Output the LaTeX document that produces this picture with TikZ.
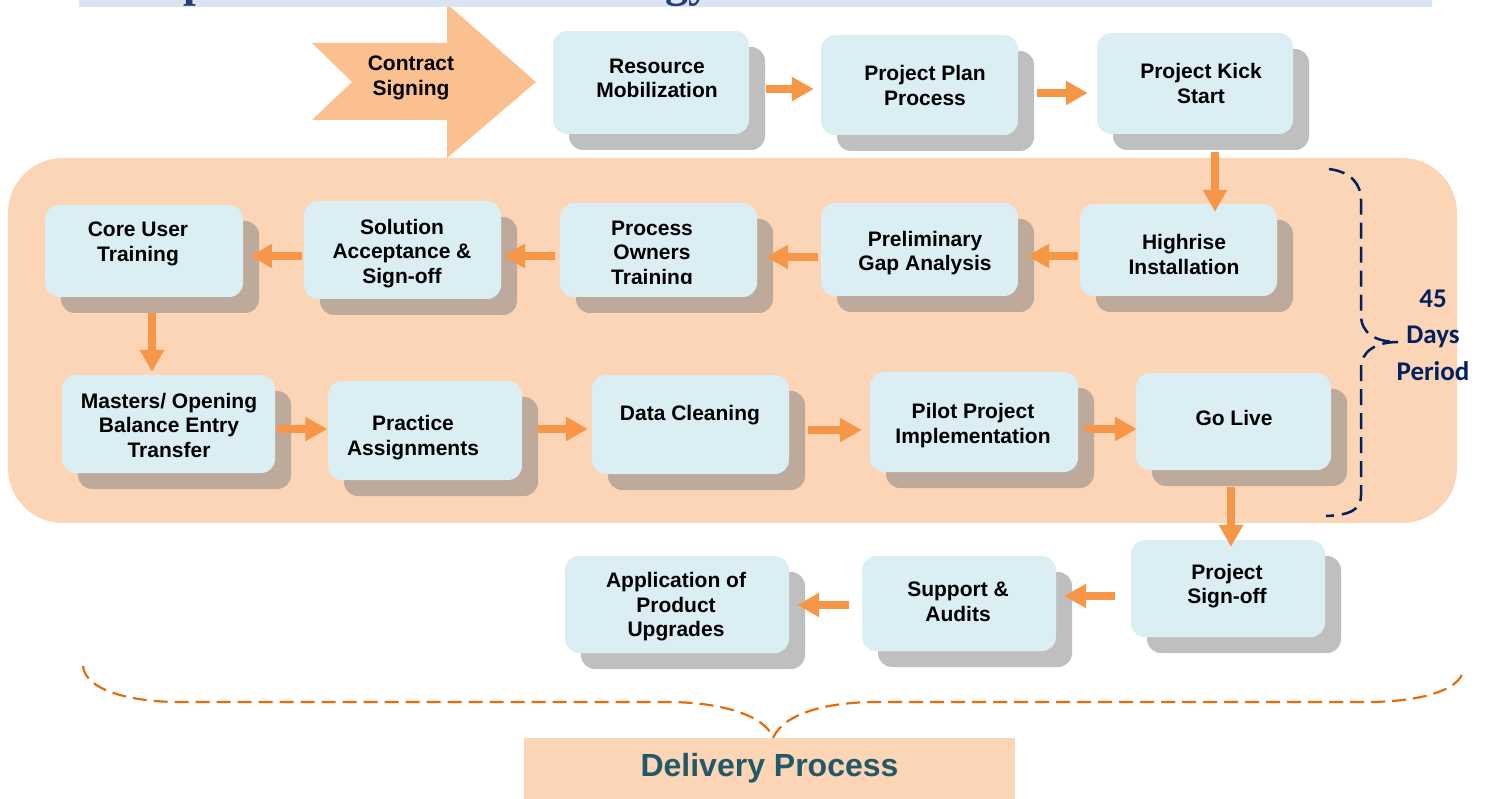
\documentclass[tikz,border=0pt]{standalone}
\usepackage{fontspec}
\setmainfont{Liberation Sans}
\newfontfamily\carlito{Carlito}
\newfontfamily\serifb{Liberation Serif}
\usetikzlibrary{arrows.meta,shadows}
\definecolor{peach}{HTML}{FBD5B5}
\definecolor{boxblue}{HTML}{DAEEF3}
\definecolor{shgray}{HTML}{BFBFBF}
\definecolor{shbrown}{HTML}{BEAA9B}
\definecolor{arrorange}{HTML}{F79646}
\definecolor{contract}{HTML}{FAC090}
\definecolor{navy}{HTML}{002060}
\definecolor{teal}{HTML}{215968}
\definecolor{braceorange}{HTML}{E46C0A}
\definecolor{band}{HTML}{DBE5F1}
\definecolor{titleblue}{HTML}{1F3F77}
\begin{document}
\begin{tikzpicture}[x=1pt,y=-1pt,
  pbx/.style={fill=boxblue, rounded corners=14pt, inner sep=0,
    drop shadow={shadow xshift=16pt, shadow yshift=-16pt, fill=#1, opacity=1}},
  txt/.style={font=\bfseries\fontsize{21}{24.5}\selectfont, align=center, inner sep=0},
  arr/.style={draw=arrorange, line width=8.5pt, -{Triangle[width=23pt,length=22pt]}},
  navybrace/.style={draw=navy, line width=2.5pt, dash pattern=on 16pt off 8pt},
  orangebrace/.style={draw=braceorange, line width=2.2pt, dash pattern=on 14pt off 7pt}]
\useasboundingbox (0,0) rectangle (1489,799);
% big peach region
\fill[peach, rounded corners=55pt] (8,158) rectangle (1457,523);
% contract arrow
\fill[contract] (312,43) -- (447,43) -- (447,4) -- (536,82) -- (447,158) -- (447,120) -- (312,120) -- (352,82) -- cycle;
\node[txt] (cs) at (411,77.7) {Contract\\Signing};
% title band (cut off)
\fill[band] (79,0) rectangle (1432,7.5);
\begin{scope}
\clip (0,0) rectangle (1489,8);
\node[anchor=base west, inner sep=0, text=titleblue, font=\serifb\bfseries\fontsize{46}{50}\selectfont] (title) at (127,-3) {Implementation Methodology};
\end{scope}
% boxes
\node[pbx=shgray, minimum width=196pt, minimum height=103pt] (rm) at (651,82.5) {};
\node[pbx=shgray, minimum width=197pt, minimum height=100pt] (pp) at (919.5,85) {};
\node[pbx=shgray, minimum width=196pt, minimum height=101pt] (pk) at (1195,83.5) {};
\node[pbx=shbrown, minimum width=197pt, minimum height=92pt] (hi) at (1178.5,250) {};
\node[pbx=shbrown, minimum width=197pt, minimum height=93pt] (pg) at (919.5,249.5) {};
\node[pbx=shbrown, minimum width=197pt, minimum height=94pt] (po) at (658.5,250) {};
\node[pbx=shbrown, minimum width=197pt, minimum height=98pt] (sa) at (402.5,250) {};
\node[pbx=shbrown, minimum width=198pt, minimum height=92pt] (cu) at (144,251) {};
\node[pbx=shbrown, minimum width=213pt, minimum height=98pt] (ma) at (168.5,424) {};
\node[pbx=shbrown, minimum width=194pt, minimum height=99pt] (pa) at (425,430.5) {};
\node[pbx=shbrown, minimum width=197pt, minimum height=99pt] (dc) at (690.5,424.5) {};
\node[pbx=shbrown, minimum width=208pt, minimum height=100pt] (pi) at (974,422) {};
\node[pbx=shbrown, minimum width=195pt, minimum height=97pt] (gl) at (1233.5,421.5) {};
\node[pbx=shgray, minimum width=194pt, minimum height=97pt] (ps) at (1228,588.5) {};
\node[pbx=shgray, minimum width=194pt, minimum height=95pt] (sp) at (959,603.5) {};
\node[pbx=shgray, minimum width=224pt, minimum height=97pt] (ap) at (677,604.5) {};
% texts
\node[txt] (rmt) at (657,78.2) {Resource\\Mobilization};
\node[txt] (ppt) at (925,85.5) {Project Plan\\Process};
\node[txt] (pkt) at (1201,83.5) {Project Kick\\Start};
\node[txt] (hit) at (1184,254.5) {Highrise\\Installation};
\node[txt] (pgt) at (925,253.2) {Preliminary\\Gap Analysis};
\begin{scope}
\clip (560,203) rectangle (757,283.5);
\node[txt] (pot) at (652,254.7) {Process\\Owners\\Training};
\end{scope}
\node[txt] (sat) at (402,253.2) {Solution\\Acceptance \&\\Sign-off};
\node[txt] (cut) at (138,243.7) {Core User\\Training};
\node[txt] (mat) at (169,425.2) {Masters/ Opening\\Balance Entry\\Transfer};
\node[txt] (pat) at (413,437.7) {Practice\\Assignments};
\node[txt] (dct) at (690,415.2) {Data Cleaning};
\node[txt] (pit) at (973,425.7) {Pilot Project\\Implementation};
\node[txt] (glt) at (1234,418) {Go Live};
\node[txt] (pst) at (1227,585.9) {Project\\Sign-off};
\node[txt] (spt) at (958,602) {Support \&\\Audits};
\node[txt] (apt) at (676,606.7) {Application of\\Product\\Upgrades};
% arrows
\draw[arr] ([xshift=17pt,yshift=-6.5pt]rm.east) -- ([xshift=-7pt,yshift=-4pt]pp.west);
\draw[arr] ([xshift=19pt,yshift=-8pt]pp.east) -- ([xshift=-9pt,yshift=-9.5pt]pk.west);
\draw[arr] ([xshift=20pt,yshift=-18pt]pk.south) -- ([xshift=36.5pt,yshift=-8pt]hi.north);
\draw[arr] ([xshift=-2pt,yshift=-6pt]hi.west) -- ([xshift=9pt,yshift=-6.5pt]pg.east);
\draw[arr] ([xshift=-3pt,yshift=-7.5pt]pg.west) -- ([xshift=9pt,yshift=-7pt]po.east);
\draw[arr] ([xshift=-5pt,yshift=-6pt]po.west) -- ([xshift=2pt,yshift=-6pt]sa.east);
\draw[arr] ([xshift=-2pt,yshift=-6pt]sa.west) -- ([xshift=7pt,yshift=-5pt]cu.east);
\draw[arr] ([xshift=8pt,yshift=-16pt]cu.south) -- ([xshift=-16.5pt,yshift=3pt]ma.north);
\draw[arr] ([xshift=2pt,yshift=-5pt]ma.east) -- ([xshift=-0.5pt,yshift=1.5pt]pa.west);
\draw[arr] ([xshift=15pt,yshift=1.5pt]pa.east) -- ([xshift=-4pt,yshift=-4.5pt]dc.west);
\draw[arr] ([xshift=19pt,yshift=-5.5pt]dc.east) -- ([xshift=-8pt,yshift=-8pt]pi.west);
\draw[arr] ([xshift=7pt,yshift=-7pt]pi.east) -- ([xshift=1pt,yshift=-7.5pt]gl.west);
\draw[arr] ([xshift=-2.5pt,yshift=-17pt]gl.south) -- ([xshift=3pt,yshift=-7pt]ps.north);
\draw[arr] ([xshift=-16pt,yshift=-7.5pt]ps.west) -- ([xshift=8pt,yshift=7.5pt]sp.east);
\draw[arr] ([xshift=-13pt,yshift=-1.5pt]sp.west) -- ([xshift=8pt,yshift=-0.5pt]ap.east);
% 45 days brace
\draw[navybrace] (1329,169) .. controls (1352,172) and (1361,185) .. (1361,200) -- (1361,315)
  .. controls (1361,333) and (1375,342) .. (1398,342)
  .. controls (1375,342) and (1361,352) .. (1361,368) -- (1361,495)
  .. controls (1361,510) and (1350,515) .. (1326,516);
\node[inner sep=0, align=center, text=navy, font=\carlito\bfseries\fontsize{27}{36.5}\selectfont] (days) at (1433,335) {45\\Days\\Period};
% delivery process
\node[fill=peach, minimum width=491pt, minimum height=61pt, inner sep=0, text=teal,
  font=\bfseries\fontsize{32}{36}\selectfont] (dp) at (769.5,768.5) {Delivery Process};
\draw[orangebrace] (83,666) .. controls (85,690) and (130,702) .. (180,702) -- (667,702)
  .. controls (720,702) and (765,715) .. ([xshift=3.5pt]dp.north);
\draw[orangebrace] ([xshift=3.5pt]dp.north) .. controls (785,712) and (830,702) .. (877,702) -- (1367,702)
  .. controls (1420,702) and (1460,690) .. (1463,671);
\end{tikzpicture}
\end{document}
